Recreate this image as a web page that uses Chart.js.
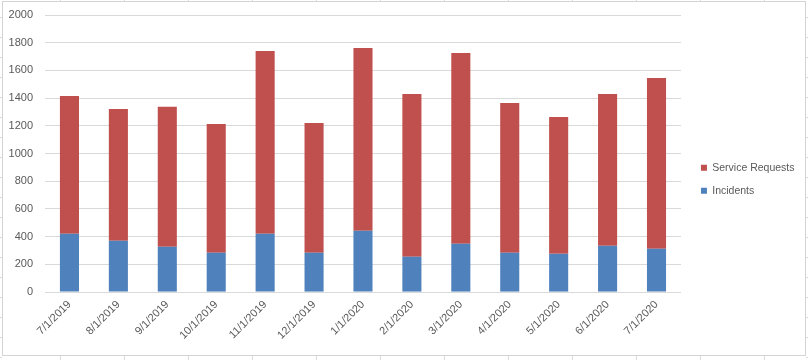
<!DOCTYPE html>
<html>
<head>
<meta charset="utf-8">
<script src="https://cdn.jsdelivr.net/npm/chart.js@4/dist/chart.umd.min.js"></script>
<style>
html,body{margin:0;padding:0;background:#fff;}
#wrap{width:808px;height:360px;position:relative;}
</style>
</head>
<body>
<div id="wrap"><canvas id="c" width="808" height="360"></canvas></div>
<script>
const categories = ["7/1/2019","8/1/2019","9/1/2019","10/1/2019","11/1/2019","12/1/2019","1/1/2020","2/1/2020","3/1/2020","4/1/2020","5/1/2020","6/1/2020","7/1/2020"];
const incidents = [421, 370, 327, 284, 421, 284, 442, 255, 349, 284, 276, 334, 313];
const serviceRequests = [995, 952, 1010, 930, 1319, 937, 1320, 1175, 1377, 1081, 988, 1096, 1233];
const yTicks = [0, 200, 400, 600, 800, 1000, 1200, 1400, 1600, 1800, 2000];

const FONT = "'Liberation Sans', Arial, sans-serif";

const sheetPlugin = {
  id: 'sheet',
  afterLayout(chart) {
    const l = chart.legend;
    if (l) { l.left += 7.5; l.right += 7.5; l.top += 4; l.bottom += 4; }
  },
  beforeDraw(chart) {
    const ctx = chart.ctx;
    ctx.save();
    ctx.fillStyle = '#ffffff';
    ctx.fillRect(0, 0, 808, 360);
    ctx.strokeStyle = '#dadada';
    ctx.lineWidth = 1;
    ctx.beginPath();
    for (let x = 60; x < 808; x += 64) {
      ctx.moveTo(x + 0.5, 0); ctx.lineTo(x + 0.5, 1);
      ctx.moveTo(x + 0.5, 356); ctx.lineTo(x + 0.5, 360);
    }
    for (let y = 17; y < 360; y += 20) {
      ctx.moveTo(0, y + 0.5); ctx.lineTo(2, y + 0.5);
      ctx.moveTo(806, y + 0.5); ctx.lineTo(808, y + 0.5);
    }
    ctx.stroke();
    ctx.strokeStyle = '#d4d4d4';
    ctx.strokeRect(2.5, 1.5, 803, 354);
    ctx.restore();
  }
};

new Chart(document.getElementById('c'), {
  type: 'bar',
  data: {
    labels: categories,
    datasets: [
      { label: 'Incidents', data: incidents, backgroundColor: '#4F81BD', borderWidth: 0 },
      { label: 'Service Requests', data: serviceRequests, backgroundColor: '#C0504D', borderWidth: 0 }
    ]
  },
  options: {
    responsive: false,
    animation: false,
    devicePixelRatio: 1,
    layout: { padding: { left: 9, top: 2.4, right: 11, bottom: 12 } },
    datasets: { bar: { categoryPercentage: 1.0, barPercentage: 0.39 } },
    scales: {
      x: {
        stacked: true,
        grid: { display: false, drawTicks: false },
        border: { display: false },
        afterFit(scale) { scale.paddingLeft = 0; scale.paddingRight = 0; scale.paddingTop = 0; },
        ticks: {
          color: '#595959',
          font: { family: FONT, size: 11 },
          maxRotation: 45, minRotation: 45,
          padding: 6, autoSkip: false
        }
      },
      y: {
        stacked: true,
        min: 0, max: 2000,
        afterBuildTicks(axis) { axis.ticks = yTicks.map(v => ({ value: v })); },
        afterFit(scale) { scale.width = 36; scale.paddingTop = 15; scale.paddingBottom = 0; },
        grid: { color: '#d9d9d9', drawTicks: false, lineWidth: 1 },
        border: { display: false },
        ticks: {
          color: '#595959',
          font: { family: FONT, size: 11 },
          padding: 12,
          callback: (v) => String(v)
        }
      }
    },
    plugins: {
      tooltip: { enabled: false },
      legend: {
        position: 'right',
        reverse: true,
        labels: {
          color: '#595959',
          font: { family: FONT, size: 10.5 },
          boxWidth: 6, boxHeight: 6,
          padding: 12.5
        }
      }
    }
  },
  plugins: [sheetPlugin]
});
</script>
</body>
</html>
